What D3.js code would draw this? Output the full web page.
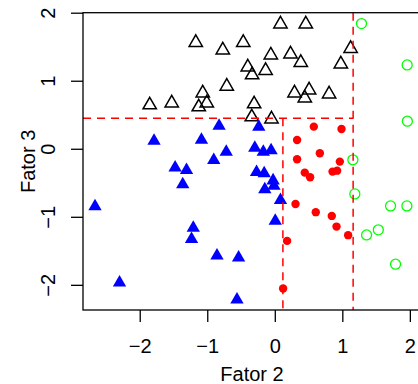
<!DOCTYPE html>
<html>
<head>
<meta charset="utf-8">
<script src="https://cdn.jsdelivr.net/npm/d3@7"></script>
<style>
  body { margin: 0; background: #fff; }
  text { font-family: "Liberation Sans", Arial, Helvetica, sans-serif; }
</style>
</head>
<body>
<div id="grafico"></div>
<script>
// grupo 1: triangulos abertos (pretos)
const g1_f2 = [-1.170, -0.770, -0.711, -1.067, -1.852, -1.526, -1.126, -1.007, 0.084, 0.459,
               -0.467, -0.059, 0.233, 0.385, 1.123, 0.978, -0.400, -0.336, -0.136, 0.292,
               0.508, 0.444, 0.804, -0.306, -0.341, -0.049];
const g1_f3 = [1.561, 1.451, 0.918, 0.819, 0.643, 0.672, 0.614, 0.672, 1.833, 1.833,
               1.561, 1.377, 1.392, 1.267, 1.473, 1.245, 1.201, 1.084, 1.150, 0.819,
               0.863, 0.745, 0.804, 0.658, 0.467, 0.437];

// grupo 2: triangulos cheios (azuis)
const g2_f2 = [-2.662, -2.299, -1.788, -1.476, -1.307, -1.363, -1.207, -1.233, -1.086, -0.904,
               -0.825, -0.719, -0.856, -0.560, -0.536, -0.296, -0.237, -0.170, -0.055, -0.270,
               -0.157, -0.025, -0.012, -0.148, 0.084, 0.007];
const g2_f3 = [-0.847, -1.968, 0.115, -0.279, -0.316, -0.523, -1.163, -1.329, 0.129, -0.169,
               0.335, -0.047, -1.570, -2.217, -1.601, 0.012, 0.320, -0.047, -0.025, -0.344,
               -0.363, -0.467, -0.546, -0.598, -0.755, -1.060];

// grupo 3: circulos cheios (vermelhos)
const g3_f2 = [0.578, 0.988, 0.330, 0.667, 0.330, 0.963, 0.444, 0.523, 0.855, 0.923,
               0.307, 0.607, 0.844, 0.914, 1.086, 0.182, 0.123];
const g3_f3 = [0.325, 0.291, 0.129, -0.066, -0.154, -0.189, -0.351, -0.419, -0.336, -0.322,
               -0.811, -0.932, -0.987, -1.144, -1.270, -1.354, -2.054];

// grupo 4: circulos abertos (verdes)
const g4_f2 = [1.284, 1.960, 1.963, 1.156, 1.185, 1.714, 1.956, 1.359, 1.533, 1.788];
const g4_f3 = [1.840, 1.233, 0.405, -0.162, -0.664, -0.840, -0.840, -1.266, -1.192, -1.696];

// cortes (linhas tracejadas)
const corteF3 = 0.448;
const corteF2a = 0.12;
const corteF2b = 1.16;

const xTicks = [-2, -1, 0, 1, 2];
const yTicks = [-2, -1, 0, 1, 2];

const W = 418, H = 384;
const plot = {left: 83, top: 12.7, right: 421, bottom: 310};
const fonte = "20px";

const svg = d3.select("#grafico")
  .append("svg")
  .attr("width", W)
  .attr("height", H);

const x = d3.scaleLinear().domain([-2.84, 2.165]).range([plot.left, plot.right]);
const y = d3.scaleLinear().domain([-2.37, 2.0]).range([plot.bottom, plot.top]);

const zip = (a, b) => a.map((v, i) => [v, b[i]]);

// pontos
const tri = d3.symbol().type(d3.symbolTriangle).size(77);

svg.append("g").selectAll("path")
  .data(zip(g1_f2, g1_f3))
  .enter().append("path")
    .attr("d", tri)
    .attr("transform", d => "translate(" + x(d[0]) + "," + y(d[1]) + ")")
    .attr("fill", "none")
    .attr("stroke", "#000")
    .attr("stroke-width", 1.5);

svg.append("g").selectAll("path")
  .data(zip(g2_f2, g2_f3))
  .enter().append("path")
    .attr("d", tri)
    .attr("transform", d => "translate(" + x(d[0]) + "," + y(d[1]) + ")")
    .attr("fill", "#0000ff");

svg.append("g").selectAll("circle")
  .data(zip(g3_f2, g3_f3))
  .enter().append("circle")
    .attr("cx", d => x(d[0]))
    .attr("cy", d => y(d[1]))
    .attr("r", 4.2)
    .attr("fill", "#ff0000");

svg.append("g").selectAll("circle")
  .data(zip(g4_f2, g4_f3))
  .enter().append("circle")
    .attr("cx", d => x(d[0]))
    .attr("cy", d => y(d[1]))
    .attr("r", 5)
    .attr("fill", "none")
    .attr("stroke", "#00ff00")
    .attr("stroke-width", 1.3);

// linhas tracejadas
const dash = svg.append("g")
  .attr("stroke", "#ff0000")
  .attr("stroke-width", 1.5)
  .attr("stroke-dasharray", "8,6");

dash.append("line")
  .attr("x1", plot.left).attr("x2", x(corteF2b))
  .attr("y1", y(corteF3)).attr("y2", y(corteF3));
dash.append("line")
  .attr("x1", x(corteF2a)).attr("x2", x(corteF2a))
  .attr("y1", y(corteF3)).attr("y2", plot.bottom);
dash.append("line")
  .attr("x1", x(corteF2b)).attr("x2", x(corteF2b))
  .attr("y1", plot.top).attr("y2", plot.bottom);

// caixa
svg.append("rect")
  .attr("x", plot.left).attr("y", plot.top)
  .attr("width", plot.right - plot.left)
  .attr("height", plot.bottom - plot.top)
  .attr("fill", "none")
  .attr("stroke", "#000")
  .attr("stroke-width", 1.3);

const fmt = d3.format("d");

// eixo x
const ax = svg.append("g")
  .attr("transform", "translate(0," + plot.bottom + ")")
  .call(d3.axisBottom(x).tickValues(xTicks).tickFormat(fmt).tickSize(12));
ax.select(".domain").remove();
ax.selectAll("line").attr("stroke-width", 1.3);
ax.selectAll("text")
  .attr("y", 43).attr("dy", null)
  .style("font-size", fonte)
  .attr("fill", "#000");

// eixo y
const ay = svg.append("g")
  .attr("transform", "translate(" + plot.left + ",0)")
  .call(d3.axisLeft(y).tickValues(yTicks).tickFormat(fmt).tickSize(12));
ay.select(".domain").remove();
ay.selectAll("line").attr("stroke-width", 1.3);
ay.selectAll("text")
  .attr("x", null).attr("dy", null)
  .attr("text-anchor", "middle")
  .attr("transform", "translate(-28,0) rotate(-90)")
  .style("font-size", fonte)
  .attr("fill", "#000");

// titulos
svg.append("text")
  .attr("x", (plot.left + plot.right) / 2)
  .attr("y", 381)
  .attr("text-anchor", "middle")
  .style("font-size", fonte)
  .text("Fator 2");

svg.append("text")
  .attr("transform", "translate(35," + (plot.top + plot.bottom) / 2 + ") rotate(-90)")
  .attr("text-anchor", "middle")
  .style("font-size", fonte)
  .text("Fator 3");
</script>
</body>
</html>
